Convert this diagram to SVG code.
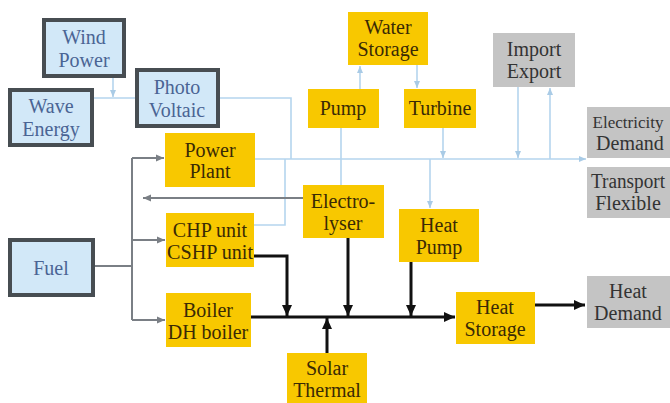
<svg xmlns="http://www.w3.org/2000/svg" width="670" height="403" viewBox="0 0 670 403">
<style>
.bl{fill:#d2e8f8;stroke:#474d52;stroke-width:4}
.ye{fill:#f8c800}
.gr{fill:#c4c4c4}
text{font-family:"Liberation Serif","DejaVu Serif",serif;font-size:20px;text-anchor:middle}
.tb{fill:#4a6494}
.ty{fill:#3a2a05}
.tg{fill:#333}
.e{fill:none;stroke:#b5d5ee;stroke-width:1.6}
.f{fill:none;stroke:#7a7f85;stroke-width:2}
.h{fill:none;stroke:#111;stroke-width:3}
</style>
<defs>
<marker id="ae" markerUnits="userSpaceOnUse" markerWidth="8" markerHeight="8" refX="7" refY="4" orient="auto"><path d="M0,1 L7,4 L0,7 z" fill="#a9cbe6"/></marker>
<marker id="af" markerUnits="userSpaceOnUse" markerWidth="9" markerHeight="9" refX="8" refY="4.5" orient="auto"><path d="M0,1 L8,4.5 L0,8 z" fill="#7a7f85"/></marker>
<marker id="ah" markerUnits="userSpaceOnUse" markerWidth="12" markerHeight="12" refX="11" refY="6" orient="auto"><path d="M0,1 L11,6 L0,11 z" fill="#111"/></marker>
</defs>
<rect width="670" height="403" fill="#fff"/>
<g id="connectors">
<path class="e" d="M113,77 V97" marker-end="url(#ae)"/>
<path class="e" d="M93,98 H291 V159"/>
<path class="e" d="M255,159 H586" marker-end="url(#ae)"/>
<path class="e" d="M254,225 H285 V159"/>
<path class="e" d="M341,128 V185"/>
<path class="e" d="M360,89 V66" marker-end="url(#ae)"/>
<path class="e" d="M417,65 V88" marker-end="url(#ae)"/>
<path class="e" d="M443,128 V158" marker-end="url(#ae)"/>
<path class="e" d="M430,159 V208" marker-end="url(#ae)"/>
<path class="e" d="M518,87 V158" marker-end="url(#ae)"/>
<path class="e" d="M550,159 V88" marker-end="url(#ae)"/>
<path class="f" d="M95,266 H132"/>
<path class="f" d="M132,158 V320"/>
<path class="f" d="M132,158 H164" marker-end="url(#af)"/>
<path class="f" d="M132,240 H165" marker-end="url(#af)"/>
<path class="f" d="M132,320 H165" marker-end="url(#af)"/>
<path class="f" d="M303,198 H143" marker-end="url(#af)"/>
<path class="h" d="M251,317 H455" marker-end="url(#ah)"/>
<path class="h" d="M254,256 H287 V316" marker-end="url(#ah)"/>
<path class="h" d="M348,238 V316" marker-end="url(#ah)"/>
<path class="h" d="M411,262 V316" marker-end="url(#ah)"/>
<path class="h" d="M327,353 V318" marker-end="url(#ah)"/>
<path class="h" d="M535,305 H585" marker-end="url(#ah)"/>
</g>
<g id="wind"><rect class="bl" x="44" y="20" width="80" height="56"/><text class="tb" x="84" y="44">Wind</text><text class="tb" x="84" y="67">Power</text></g>
<g id="wave"><rect class="bl" x="10" y="90" width="82" height="55"/><text class="tb" x="51" y="113">Wave</text><text class="tb" x="51" y="136">Energy</text></g>
<g id="pv"><rect class="bl" x="137" y="70" width="81" height="56"/><text class="tb" x="177" y="94">Photo</text><text class="tb" x="177" y="117">Voltaic</text></g>
<g id="fuel"><rect class="bl" x="10" y="240" width="83" height="55"/><text class="tb" x="51" y="275">Fuel</text></g>
<g id="powerplant"><rect class="ye" x="165" y="133" width="90" height="54"/><text class="ty" x="210" y="157">Power</text><text class="ty" x="210" y="178">Plant</text></g>
<g id="chp"><rect class="ye" x="166" y="213" width="88" height="54"/><text class="ty" x="210" y="237">CHP unit</text><text class="ty" x="210" y="259" textLength="86" lengthAdjust="spacingAndGlyphs">CSHP unit</text></g>
<g id="boiler"><rect class="ye" x="166" y="293" width="85" height="54"/><text class="ty" x="208" y="317">Boiler</text><text class="ty" x="208" y="339">DH boiler</text></g>
<g id="waterstorage"><rect class="ye" x="348" y="12" width="80" height="53"/><text class="ty" x="388" y="34">Water</text><text class="ty" x="388" y="56">Storage</text></g>
<g id="pump"><rect class="ye" x="308" y="89" width="71" height="39"/><text class="ty" x="343" y="115">Pump</text></g>
<g id="turbine"><rect class="ye" x="404" y="89" width="72" height="39"/><text class="ty" x="440" y="115">Turbine</text></g>
<g id="electrolyser"><rect class="ye" x="303" y="185" width="81" height="53"/><text class="ty" x="343" y="208">Electro-</text><text class="ty" x="343" y="230">lyser</text></g>
<g id="heatpump"><rect class="ye" x="399" y="209" width="80" height="53"/><text class="ty" x="439" y="232">Heat</text><text class="ty" x="439" y="254">Pump</text></g>
<g id="heatstorage"><rect class="ye" x="456" y="292" width="79" height="52"/><text class="ty" x="495" y="314">Heat</text><text class="ty" x="495" y="336">Storage</text></g>
<g id="solarthermal"><rect class="ye" x="287" y="353" width="80" height="50"/><text class="ty" x="327" y="375">Solar</text><text class="ty" x="327" y="397">Thermal</text></g>
<g id="importexport"><rect class="gr" x="493" y="33" width="82" height="54"/><text class="tg" x="534" y="56">Import</text><text class="tg" x="534" y="78">Export</text></g>
<g id="elecdemand"><rect class="gr" x="587" y="107" width="83" height="51"/><text class="tg" x="628" y="128" style="font-size:17px">Electricity</text><text class="tg" x="630" y="150">Demand</text></g>
<g id="transport"><rect class="gr" x="587" y="167" width="83" height="51"/><text class="tg" x="628" y="188" textLength="74" lengthAdjust="spacingAndGlyphs">Transport</text><text class="tg" x="628" y="210">Flexible</text></g>
<g id="heatdemand"><rect class="gr" x="587" y="276" width="83" height="52"/><text class="tg" x="628" y="298">Heat</text><text class="tg" x="628" y="320">Demand</text></g>
</svg>
